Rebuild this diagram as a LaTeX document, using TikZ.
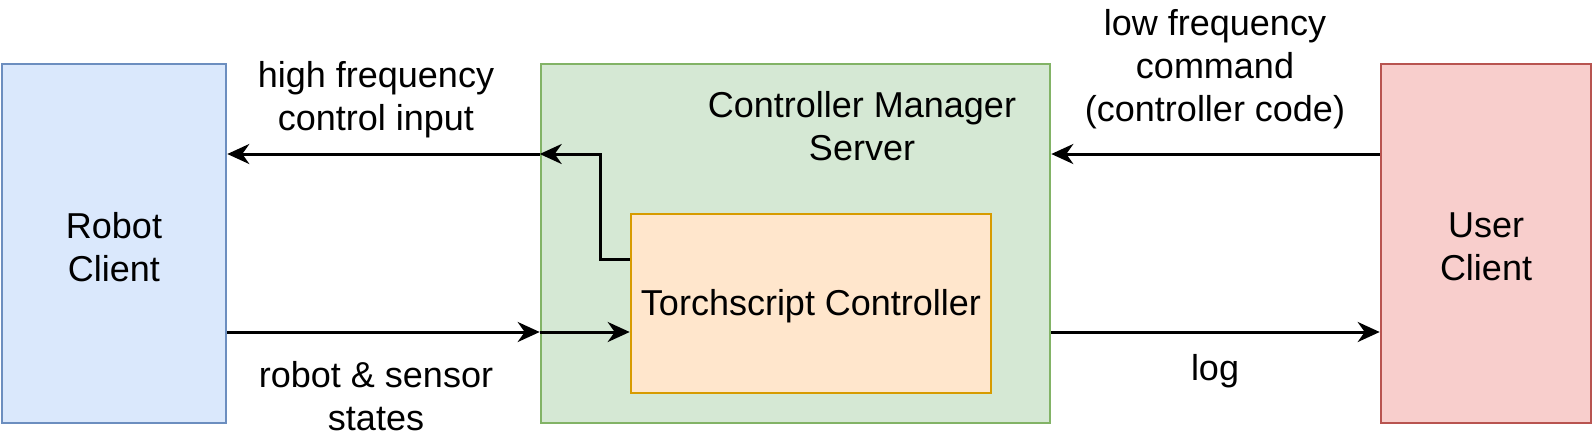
\documentclass[tikz,border=0pt]{standalone}
\usepackage{fontspec}
\setmainfont{Liberation Sans}
\usetikzlibrary{positioning,arrows.meta}
\usepackage{xcolor}
\definecolor{robotfill}{HTML}{DAE8FC}
\definecolor{robotline}{HTML}{6C8EBF}
\definecolor{mgrfill}{HTML}{D5E8D4}
\definecolor{mgrline}{HTML}{82B366}
\definecolor{tscfill}{HTML}{FFE6CC}
\definecolor{tscline}{HTML}{D79B00}
\definecolor{userfill}{HTML}{F8CECC}
\definecolor{userline}{HTML}{B85450}
\begin{document}
\begin{tikzpicture}[x=0.5pt,y=-0.5pt,>={Stealth[length=11pt,width=10pt,inset=3.5pt]},
  box/.style={draw,line width=1.3pt,inner sep=0pt,align=center,font=\fontsize{18}{21.5}\selectfont},
  lbl/.style={align=center,font=\fontsize{18}{21.5}\selectfont},
  link/.style={->,line width=1.5pt}]
\useasboundingbox (0,0) rectangle (1593,435);
\node (robot) [box,fill=robotfill,draw=robotline,minimum width=112pt,minimum height=179.5pt] at (114,243.5) {};
\node (robotlbl) [lbl] at (114,247) {Robot\\Client};
\node (mgr) [box,fill=mgrfill,draw=mgrline,minimum width=254.5pt,minimum height=179.5pt] at (795.5,243.5) {};
\node (mgrlbl) [lbl] at (862,126) {Controller Manager\\Server};
\node (tsc) [box,fill=tscfill,draw=tscline,minimum width=180pt,minimum height=89.5pt] at (811,303.5) {};
\node (tsclbl) [lbl] at (811,306.5) {Torchscript Controller};
\node (user) [box,fill=userfill,draw=userline,minimum width=105pt,minimum height=179.5pt] at (1486,243.5) {};
\node (userlbl) [lbl] at (1486,247) {User\\Client};
\coordinate (hi) at (0,154);
\coordinate (lo) at (0,332);
\draw[link] (mgr.west |- hi) -- (robot.east |- hi);
\draw[link] ([yshift=22.25pt]tsc.west) -- ++(-29,0) |- (mgr.west |- hi);
\draw[link] (robot.east |- lo) -- (mgr.west |- lo);
\draw[link] (mgr.west |- lo) -- (tsc.west |- lo);
\draw[link] (user.west |- hi) -- (mgr.east |- hi);
\draw[link] (mgr.east |- lo) -- (user.west |- lo);
\node (hilbl) [lbl] at (376,100) {high frequency\\control input};
\node (lolbl) [lbl] at (376,396) {robot \& sensor\\states};
\node (cmdlbl) [lbl] at (1215,69) {low frequency\\command\\(controller code)};
\node (loglbl) [lbl] at (1215,371) {log};
\end{tikzpicture}
\end{document}
